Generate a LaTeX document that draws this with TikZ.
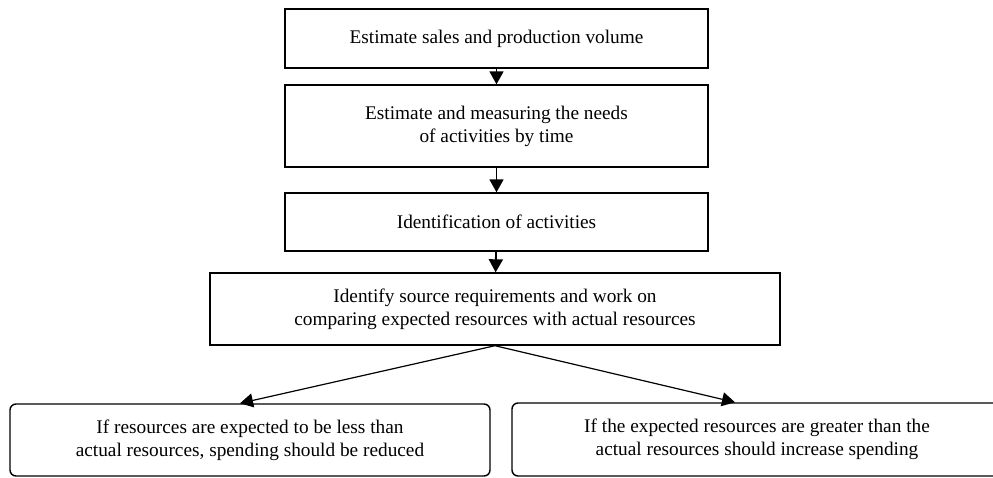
\documentclass[tikz,border=0pt]{standalone}
\usepackage{fontspec}
\setmainfont{Liberation Serif}
\usetikzlibrary{arrows.meta}
\begin{document}
\begin{tikzpicture}[x=1pt,y=-1pt,
  stepbox/.style={draw,line width=1.4pt,rectangle,inner sep=0pt,align=center,
    font=\fontsize{19.3}{23}\selectfont},
  roundbox/.style={stepbox,rounded corners=6pt},
  flow/.style={line width=1.2pt,-{Triangle[length=13pt,width=14pt]}}]
\useasboundingbox (0,0) rectangle (993,477);
\node[stepbox,minimum width=423pt,minimum height=59pt] (b1) at (496.5,38.5) {Estimate sales and production volume};
\node[stepbox,minimum width=423pt,minimum height=82pt] (b2) at (496.5,126) {Estimate and measuring the needs\\of activities by time};
\node[stepbox,minimum width=423pt,minimum height=58pt] (b3) at (496.5,222) {Identification of activities};
\node[stepbox,minimum width=570pt,minimum height=72pt] (b4) at (495,309) {Identify source requirements and work on\\comparing expected resources with actual resources};
\node[roundbox,minimum width=480pt,minimum height=72pt] (l) at (250,440) {If resources are expected to be less than\\actual resources, spending should be reduced};
\node[roundbox,minimum width=490pt,minimum height=73pt] (r) at (757,439.5) {If the expected resources are greater than the\\actual resources should increase spending};
\draw[flow,line width=1.8pt] (b1) -- (b2);
\draw[flow,line width=1.8pt] (b2) -- (b3);
\draw[flow,line width=1.8pt] (b3) -- (b4);
\draw[flow] (b4.south) -- ([xshift=-10pt]l.north);
\draw[flow] (b4.south) -- ([xshift=-22pt]r.north);
\end{tikzpicture}
\end{document}
